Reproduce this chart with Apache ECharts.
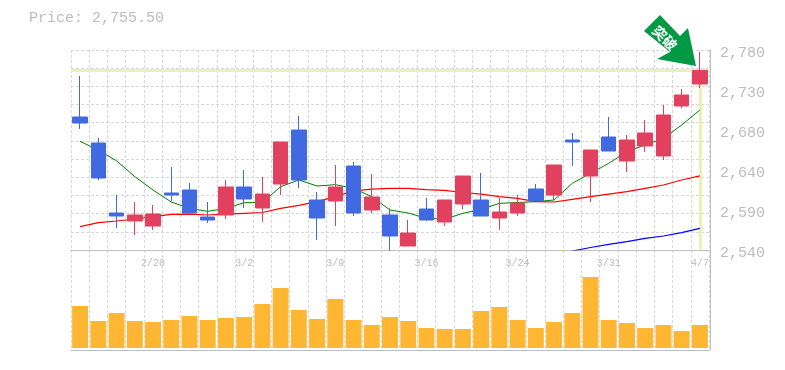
<!DOCTYPE html>
<html><head><meta charset="utf-8">
<style>html,body{margin:0;padding:0;background:#fff}#c{width:785px;height:370px}</style>
<script src="https://cdn.jsdelivr.net/npm/echarts@6/dist/echarts.min.js"></script>
</head><body><div id="c"></div>
<script>
const categories = ['2/14','2/17','2/18','2/19','2/20','2/21','2/25','2/26','2/27','3/2','3/3','3/4','3/5','3/6','3/9','3/10','3/11','3/12','3/13','3/16','3/17','3/18','3/19','3/23','3/24','3/25','3/26','3/27','3/30','3/31','4/1','4/2','4/3','4/6','4/7'];
const shownDates = ['2/20','3/2','3/9','3/16','3/24','3/31','4/7'];
const priceTicks = ['2,540','2,590','2,640','2,680','2,730','2,780'];
const bodyTop = [2699.6,2668.4,2584.4,2582,2583.2,2608.4,2612,2579.6,2615.6,2615.6,2607.2,2669.6,2684,2600,2615.6,2640.8,2603.6,2582,2560.4,2589.2,2600,2628.8,2600,2585.6,2596.4,2613.2,2642,2672,2660,2675.6,2672,2680.4,2702,2726,2755.5];
const bodyBottom = [2692.4,2626.4,2580.8,2574.8,2568.8,2606,2584.4,2576,2582,2601.2,2590.4,2619.2,2624,2578.4,2598.8,2584.4,2588,2556.8,2544.8,2576,2573.6,2595.2,2580.8,2578.4,2584.4,2598.8,2606,2669.6,2628.8,2658.8,2646.8,2664.8,2652.8,2712.8,2739.2];
const highs = [2748.8,2674.4,2606,2597.6,2594,2639.6,2620.4,2597.6,2624,2636,2627.6,2669.6,2700.8,2609.6,2642,2645.6,2631.2,2590,2576,2602.4,2600,2628.8,2632.4,2602.4,2606,2619.2,2642,2680.4,2660,2699.6,2678,2696,2714,2733.2,2778];
const lows = [2685.2,2624,2566.4,2558,2564,2598.8,2584.4,2572.4,2577.2,2590.4,2573.6,2606,2614.4,2552,2568.8,2580.8,2584.4,2539.2,2544.8,2574.8,2568.8,2589.2,2580.8,2564,2580.8,2598.8,2600,2640.8,2597.6,2658.8,2633.6,2657.6,2648,2710.4,2734.4];
// true where the candle closed above its open (red)
const rising = [0,0,0,1,1,0,0,0,1,0,1,1,0,0,1,0,1,0,1,0,1,1,0,1,1,0,1,0,1,0,1,1,1,1,1];
const maShort = [2670.4,2660,2647,2628,2612,2597.6,2590,2586.4,2590,2596.8,2597,2616,2624,2616.8,2618.4,2614,2604,2588,2584.4,2578,2577,2584,2588.8,2596,2597,2598,2600,2620,2632,2644,2658,2666,2674,2690,2708];
const maMid = [2568,2572.8,2574.8,2577.2,2580,2582.8,2583,2582,2583,2584,2585,2590,2593.6,2598,2604,2611,2613,2614,2614,2612.4,2611.6,2609,2607,2604,2602,2598,2597.6,2600.8,2604,2607,2610,2614,2618,2624,2629];
const maLong = [null,null,null,null,null,null,null,null,null,null,null,null,null,null,null,null,null,null,null,null,null,null,null,null,null,null,null,2538.8,2543,2546.8,2550,2554,2556.8,2560.8,2566];
const volumes = [42,27,35,27,26,28,32,28,30,31,44,60,38,29,49,28,23,31,27,20,19,19,37,41,28,20,26,35,71,28,25,20,23,17,23];
const lastPrice = 2755.5;

const RED='#e2405f', BLUE='#4169e1', GRID='#d8d8d8', FRAME='#bfbfbf', TXT='#bdbdbd', MONO='"Liberation Mono", monospace', HILITE='#e6f3b2';
const candleData = categories.map((_, i) => rising[i]
  ? [bodyBottom[i], bodyTop[i], lows[i], highs[i]]
  : [bodyTop[i], bodyBottom[i], lows[i], highs[i]]);
const split = {show:true, lineStyle:{color:GRID, type:[3,2], width:1}};
const L=71, W=638;

const chart = echarts.init(document.getElementById('c'), null, {renderer:'canvas'});
chart.setOption({
  animation:false,
  backgroundColor:'#fff',
  title:{text:'Price: '+lastPrice.toLocaleString('en-US',{minimumFractionDigits:2}), left:24, top:6,
    textStyle:{color:TXT, fontFamily:MONO, fontSize:15, fontWeight:'normal'}},
  grid:[{left:L, width:W, top:50, height:200},{left:L, width:W, top:250, height:100}],
  xAxis:[
    {type:'category', gridIndex:0, data:categories, axisTick:{show:false}, axisLabel:{show:false},
     axisLine:{show:true, onZero:false, lineStyle:{color:FRAME}}, splitLine:Object.assign({interval:0},split)},
    {type:'category', gridIndex:1, data:categories, position:'top', axisTick:{show:false},
     axisLine:{show:false},
     axisLabel:{inside:true, interval:0, margin:8, color:TXT, fontFamily:MONO, fontSize:10,
       formatter:v=>shownDates.includes(v)?v:''},
     splitLine:Object.assign({interval:0},split)},
    {type:'category', gridIndex:1, data:categories, position:'bottom', axisTick:{show:false}, axisLabel:{show:false},
     axisLine:{show:true, onZero:false, lineStyle:{color:FRAME}}}
  ],
  yAxis:[
    {type:'value', gridIndex:0, min:2540, max:2780, show:false, splitLine:{show:false}},
    {type:'value', gridIndex:0, min:0, max:11, interval:1, position:'left', axisLine:{show:false}, axisTick:{show:false}, axisLabel:{show:false}, splitLine:split},
    {type:'value', gridIndex:0, min:0, max:240, interval:48, position:'right', offset:1,
     axisLine:{show:true, lineStyle:{color:FRAME}}, axisTick:{show:false}, splitLine:{show:false},
     axisLabel:{margin:10, color:TXT, fontFamily:MONO, fontSize:15, verticalAlign:'top', lineHeight:7,
       formatter:v=>priceTicks[Math.round(v/48)]}},
    {type:'value', gridIndex:1, min:-2, max:98, show:false, splitLine:{show:false}},
    {type:'value', gridIndex:1, min:0, max:100, position:'right', offset:1, axisLine:{show:true, lineStyle:{color:FRAME}}, axisTick:{show:false}, axisLabel:{show:false}, splitLine:{show:false}}
  ],
  series:[
    {type:'line', name:'guide', xAxisIndex:0, yAxisIndex:0, data:[], z:1, silent:true,
     markLine:{silent:true, z:1, symbol:'none', label:{show:false}, animation:false,
       lineStyle:{color:HILITE, width:3, type:'solid'},
       data:[{yAxis:lastPrice},[{coord:[categories.length-1,lastPrice]},{coord:[categories.length-1,2540]}]]}},
    {type:'line', name:'MA long', xAxisIndex:0, yAxisIndex:0, data:maLong, symbol:'none', connectNulls:false, z:2, lineStyle:{color:'#0000ff', width:1.2}},
    {type:'line', name:'MA mid', xAxisIndex:0, yAxisIndex:0, data:maMid, symbol:'none', z:2, lineStyle:{color:'#ff0000', width:1.2}},
    {type:'line', name:'MA short', xAxisIndex:0, yAxisIndex:0, data:maShort, symbol:'none', z:2, lineStyle:{color:'#008000', width:1}},
    {type:'candlestick', xAxisIndex:0, yAxisIndex:0, data:candleData, barWidth:15, z:6,
     itemStyle:{color:RED, color0:BLUE, borderColor:RED, borderColor0:BLUE, borderWidth:1}},
    {type:'bar', xAxisIndex:1, yAxisIndex:3, data:volumes, barWidth:16, itemStyle:{color:'#ffb733'}, z:2}
  ],
  graphic:[
    {type:'polygon', z:100, silent:true, shape:{points:[[660,15],[644,31],[670,52],[657,59],[696,66],[688,28],[680,36]]}, style:{fill:'#009944'}},
    {type:'text', z:101, silent:true, x:665, y:38, rotation:-Math.PI/4, style:{text:'突破', fill:'#fff', font:'bold 14px "Noto Sans CJK JP"', textAlign:'center', textVerticalAlign:'middle'}}
  ]
});
</script></body></html>
